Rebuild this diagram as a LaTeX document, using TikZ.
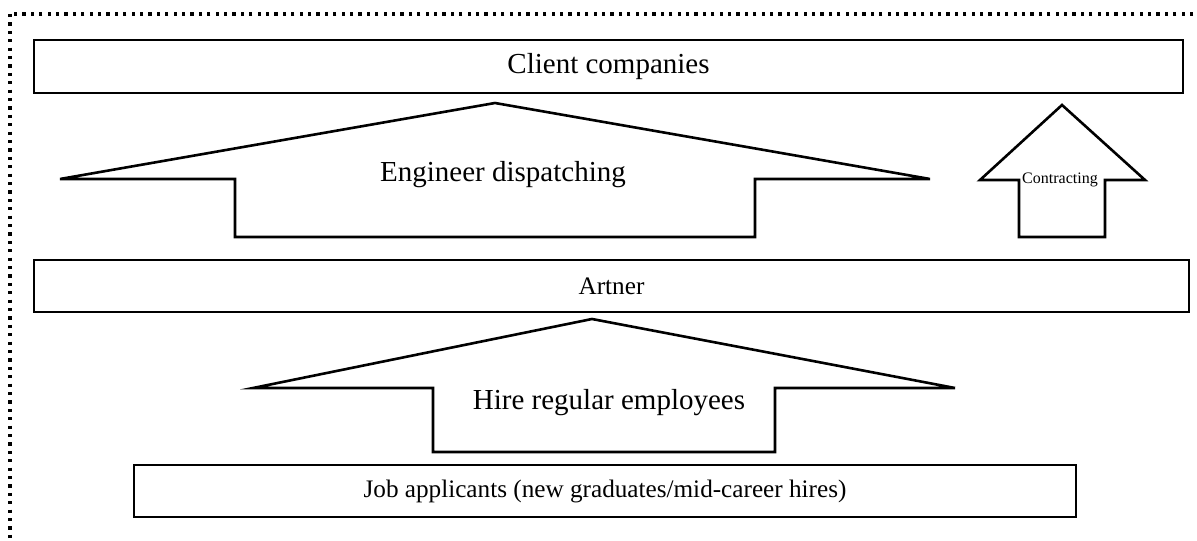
\documentclass[tikz,border=0pt]{standalone}
\usepackage{fontspec}
\setmainfont{Liberation Serif}
\tikzset{
    every node/.style={align=center,},
    band/.style={draw,rectangle,line width=1.3pt,inner sep=0pt,},
    uparrow/.style={draw,line width=1.3pt,},
    frame/.style={draw,line width=1.7pt,dash pattern=on 1.6pt off 2.6pt,},
}
\newcommand{\bigtext}{\fontsize{14.5}{17}\selectfont}
\newcommand{\midtext}{\fontsize{12.6}{15}\selectfont}
\newcommand{\tinytext}{\fontsize{8}{9.5}\selectfont}

\begin{document}
\begin{tikzpicture}[x=0.5pt,y=-0.5pt]
                \clip (0,0) rectangle (1197,540);
                \draw[frame] (10,14) rectangle (1230,570);

                \node[band,minimum width=574.5pt,minimum height=26.5pt] (client) at (608.5,66.5) {\bigtext Client companies};
                \node[band,minimum width=577.5pt,minimum height=26pt] (artner) at (611.5,286) {\midtext Artner};
                \node[band,minimum width=471pt,minimum height=26pt] (applicants) at (605,491) {\midtext Job applicants (new graduates/mid-career hires)};

                % up arrows
                \draw[uparrow] (495,103) -- (930,179) -- (755,179) -- (755,237) -- (235,237) -- (235,179) -- (60,179) -- cycle;
                \node (dispatch) at (503,175) {\bigtext Engineer dispatching};

                \draw[uparrow] (1062,105) -- (1145,180) -- (1105,180) -- (1105,237) -- (1019,237) -- (1019,180) -- (980,180) -- cycle;
                \node (contract) at (1060,180) {\tinytext Contracting};

                \draw[uparrow] (592,319) -- (955,388) -- (775,388) -- (775,452) -- (433,452) -- (433,388) -- (253,388) -- cycle;
                \node (hire) at (609,403) {\bigtext Hire regular employees};
            \end{tikzpicture}
\end{document}
